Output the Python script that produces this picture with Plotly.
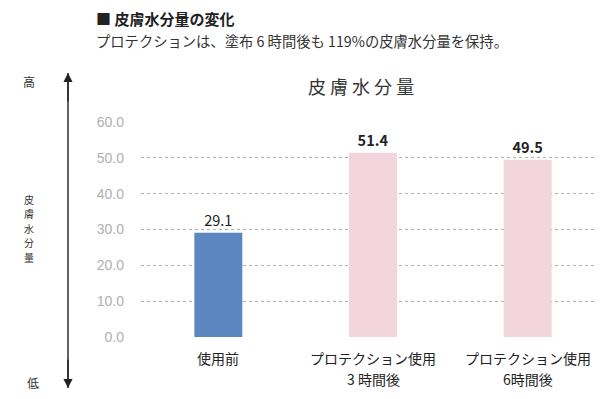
import plotly.graph_objects as go

categories = ["使用前", "プロテクション使用 3 時間後", "プロテクション使用 6時間後"]
category_line1 = ["使用前", "プロテクション使用", "プロテクション使用"]
category_line2 = ["", "3 時間後", "6時間後"]
values = [29.1, 51.4, 49.5]
value_labels = ["29.1", "<b>51.4</b>", "<b>49.5</b>"]
bar_colors = ["#5b86c0", "#f3d5dd"]
tick_vals = [0, 10, 20, 30, 40, 50, 60]
tick_text = ["0.0", "10.0", "20.0", "30.0", "40.0", "50.0", "60.0"]
side_label_chars = ["皮", "膚", "水", "分", "量"]

FONT = "Noto Sans CJK JP"
OFF = 8  # page body margin in the browser
W, H = 605 - OFF, 399 - OFF
L, R, T, B = 141 - OFF, 0, 122 - OFF, 62
PW, PH = W - L - R, H - T - B


def px(xp, yp):
    """window pixel -> paper coords"""
    return (xp - OFF - L) / PW, (H - B - (yp - OFF)) / PH


def note(text, xp, yp, size, color="#333", xanchor="center"):
    x, y = px(xp, yp)
    return dict(text=text, x=x, y=y, xref="paper", yref="paper", showarrow=False,
                font=dict(family=FONT, size=size, color=color), borderpad=0,
                xanchor=xanchor, yanchor="middle", align="center")


fig = go.Figure()
fig.add_trace(go.Bar(
    x=categories, y=values,
    marker=dict(color=[bar_colors[0], bar_colors[1], bar_colors[1]], line=dict(width=0)),
    text=value_labels, textposition="outside",
    textfont=dict(family=FONT, size=14.5, color="#222"),
    cliponaxis=False,
    width=0.31,
))

ax_top = px(68, 73)
ax_bot = px(68, 388)

annotations = [
    note("<b>■ 皮膚水分量の変化</b>", 95, 18.5, 15, "#222", "left"),
    note("プロテクションは、塗布 6 時間後も 119%の皮膚水分量を保持。", 95, 41, 14.3, "#333", "left"),
    note("皮 膚 水 分 量", 361, 86, 18),
    note("高", 29, 81, 12),
    note("低", 33, 382, 12),
]
for i, ch in enumerate(side_label_chars):
    annotations.append(note(ch, 29, 199 + i * 14.5, 10))

# category labels (two lines, placed on the category axis)
_, y1 = px(0, 358)
_, y2 = px(0, 379)
for cat, l1, l2 in zip(categories, category_line1, category_line2):
    annotations.append(dict(text=l1, x=cat, xref="x", y=y1, yref="paper", showarrow=False,
                            font=dict(family=FONT, size=14, color="#222"), borderpad=0,
                            xanchor="center", yanchor="middle"))
    if l2:
        annotations.append(dict(text=l2, x=cat, xref="x", y=y2, yref="paper", showarrow=False,
                                font=dict(family=FONT, size=14, color="#222"), borderpad=0,
                                xanchor="center", yanchor="middle"))

annotations += [
    dict(x=ax_top[0], y=ax_top[1], xref="paper", yref="paper", ax=0, ay=30,
         showarrow=True, arrowhead=2, arrowsize=1.3, arrowwidth=1.4, arrowcolor="#222", text=""),
    dict(x=ax_bot[0], y=ax_bot[1], xref="paper", yref="paper", ax=0, ay=-30,
         showarrow=True, arrowhead=2, arrowsize=1.3, arrowwidth=1.4, arrowcolor="#222", text=""),
]

fig.update_layout(
    width=W, height=H,
    margin=dict(l=L, r=R, t=T, b=B),
    paper_bgcolor="white", plot_bgcolor="white",
    showlegend=False,
    font=dict(family=FONT),
    xaxis=dict(range=[-0.5, 2.5], showline=False, showgrid=False, ticks="",
               showticklabels=False),
    yaxis=dict(range=[0, 60], tickvals=tick_vals, ticktext=tick_text,
               showgrid=True, gridcolor="#b0b0b0", griddash="dot", gridwidth=1,
               zeroline=False, showline=False, ticks="", ticklabelstandoff=16,
               tickfont=dict(family="Liberation Sans", size=14, color="#b0b0b0")),
    annotations=annotations,
    shapes=[dict(type="line", xref="paper", yref="paper",
                 x0=ax_top[0], x1=ax_bot[0], y0=ax_top[1], y1=ax_bot[1],
                 line=dict(color="#222", width=1.4))],
)

fig.write_html("out.html")
